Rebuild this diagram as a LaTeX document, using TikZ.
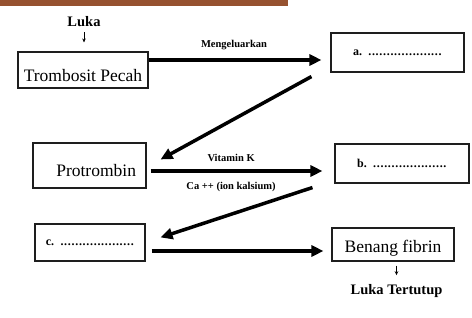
\documentclass[tikz,border=0pt]{standalone}
\usepackage{fontspec}
\setmainfont{Liberation Serif}
\usetikzlibrary{arrows.meta,positioning}
\definecolor{barbrown}{RGB}{150,82,48}
\definecolor{boxline}{RGB}{30,30,30}
\newcommand{\fillindots}{\foreach \k in {1,...,20}{\makebox[3.7pt]{.}}}
\tikzset{
  box/.style={
    draw=boxline,
    line width=1.1pt,
    fill=white,
    align=center,
    inner sep=0pt,
    font=\fontsize{17.5}{20}\selectfont
  },
  blankbox/.style={
    draw=boxline,
    line width=1.1pt,
    fill=white,
    inner sep=0pt,
    font=\bfseries\fontsize{12}{14}\selectfont
  },
  lbl/.style={font=\bfseries\fontsize{10.5}{12}\selectfont, inner sep=0pt},
  endlbl/.style={font=\bfseries\fontsize{14.5}{16}\selectfont, inner sep=0pt},
  arrow/.style={-{Triangle[length=12pt,width=11pt]}, line width=3.5pt},
  smallarrow/.style={-{Stealth[length=4pt,width=3.5pt]}, line width=0.9pt}
}
\begin{document}
\begin{tikzpicture}[x=1pt,y=-1pt]
  \useasboundingbox (0,0) rectangle (472,318);
  \fill[barbrown] (0,0) rectangle (288,6);

  \node[endlbl] (luka) at (84,22) {Luka};
  \node[box, minimum width=130pt, minimum height=36pt, text height=27pt, text depth=4pt] (tp) at (83,70) {Trombosit Pecah};
  \node[blankbox, minimum width=133pt, minimum height=39pt] (a) at (397.5,52.5) {a.\enspace\fillindots};
  \node[box, text width=93pt, align=right, inner xsep=10pt, minimum height=45pt, text height=27pt, text depth=4pt] (pr) at (89.5,165.5) {Protrombin};
  \node[blankbox, minimum width=134pt, minimum height=39pt] (b) at (402,163.5) {b.\enspace\fillindots};
  \node[blankbox, minimum width=110pt, minimum height=37pt] (c) at (90,242.5) {c.\enspace\fillindots};
  \node[box, minimum width=122pt, minimum height=33pt, text height=21pt, text depth=4pt] (bf) at (393,244.5) {Benang fibrin};
  \node[endlbl] (lt) at (396.5,291) {Luka Tertutup};

  \draw[smallarrow, shorten <=5pt, shorten >=9pt] (luka) -- (luka |- tp.north);
  \draw[arrow, shorten >=9pt] ([yshift=10pt]tp.east) -- ([yshift=10pt]tp.east -| a.west)
    node[lbl, pos=0.47, above=8.5pt] (out) {Mengeluarkan};
  \draw[arrow] ([xshift=-19pt,yshift=-4pt]a.south west) -- ([xshift=14pt,yshift=-17pt]pr.north east);
  \draw[arrow, shorten <=4pt, shorten >=12pt] ([yshift=-5.5pt]pr.east) -- ([yshift=-5.5pt]pr.east -| b.west)
    node[lbl, pos=0.45, above=8pt] (vitk) {Vitamin K}
    node[lbl, pos=0.45, below=9pt] (ca) {Ca ++ (ion kalsium)};
  \draw[arrow] ([xshift=-22pt,yshift=-4pt]b.south west) -- ([xshift=15pt,yshift=-14pt]c.north east);
  \draw[arrow, shorten <=6pt, shorten >=8pt] ([yshift=-8.5pt]c.east) -- ([yshift=-8.5pt]c.east -| bf.west);
  \draw[smallarrow, shorten <=4pt, shorten >=9pt] (bf.south -| lt.north) -- (lt.north);
\end{tikzpicture}
\end{document}
